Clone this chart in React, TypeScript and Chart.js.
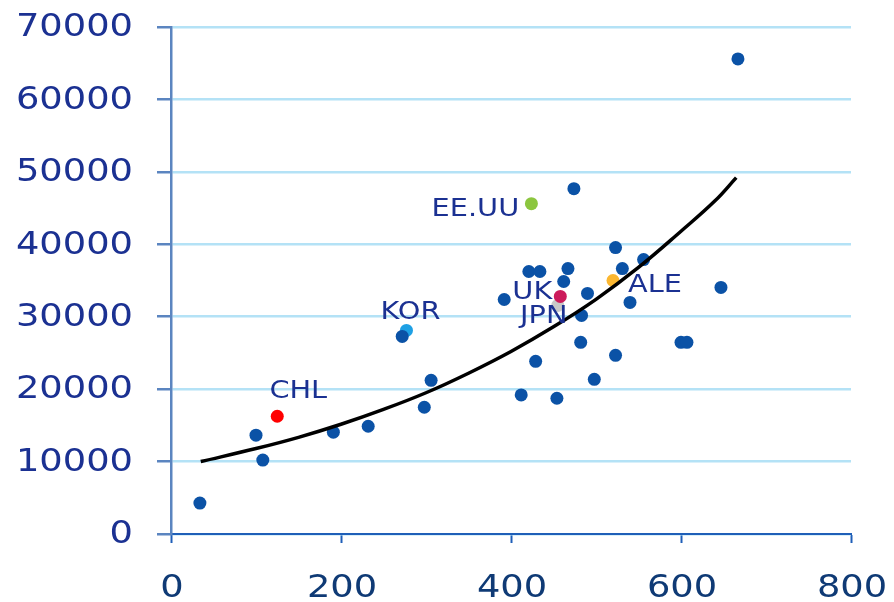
import React, { useEffect, useRef } from "react";
import { Chart, registerables } from "chart.js";

Chart.register(...registerables);

// Other countries (dark blue points)
const otherX = [34, 100, 108, 191, 232, 272, 298, 306, 392, 412, 421, 434, 429, 454, 474, 462, 467, 490, 483, 482, 498, 523, 523, 531, 540, 556, 600, 607, 647, 667];
const otherY = [4270, 13640, 10200, 14060, 14880, 27280, 17500, 21220, 32380, 19200, 36240, 36240, 23840, 18740, 47680, 34860, 36650, 33210, 30180, 26460, 21360, 24670, 39550, 36650, 31970, 37890, 26460, 26460, 34040, 65590];

// Highlighted countries
const hiNames = ["CHL", "KOR", "EE.UU", "JPN", "UK", "ALE"];
const hiX = [125, 277, 424, 455, 458, 520];
const hiY = [16260, 28110, 45610, 31560, 32800, 35000];
const hiColors = ["#ff0000", "#1ea0e4", "#8cc63f", "#c8c8c8", "#cc1b5b", "#fbb731"];

// Trend curve
const trendX = [35, 100, 150, 200, 250, 300, 350, 400, 450, 500, 550, 600, 640, 665];
const trendY = [10000, 11800, 13350, 15150, 17200, 19500, 22200, 25200, 28600, 32400, 36800, 41800, 46000, 49200];

const xTicks = [0, 200, 400, 600, 800];
const yTicks = [0, 10000, 20000, 30000, 40000, 50000, 60000, 70000];

const STRETCH = 1.15;
const BLUE = "#0b52a6";

// label offsets (px) relative to point
const labelOffsets: Record<string, [number, number]> = {
  CHL: [21, -25],
  KOR: [4, -18],
  "EE.UU": [-56, 6],
  JPN: [-14, 11],
  UK: [-28, -4],
  ALE: [42, 5],
};

function stretchedText(ctx: CanvasRenderingContext2D, text: string, x: number, y: number, align: CanvasTextAlign) {
  ctx.save();
  ctx.translate(x, y);
  ctx.scale(STRETCH, 1);
  ctx.textAlign = align;
  ctx.textBaseline = "middle";
  ctx.fillText(text, 0, 0);
  ctx.restore();
}

const textPlugin = {
  id: "texts",
  afterDraw(chart: any) {
    const ctx = chart.ctx as CanvasRenderingContext2D;
    const xs = chart.scales.x;
    const ys = chart.scales.y;
    ctx.save();
    // y tick labels
    ctx.font = "32px 'DejaVu Sans'";
    ctx.fillStyle = "#1b3192";
    yTicks.forEach((v) => stretchedText(ctx, String(v), 133, ys.getPixelForValue(v) + 1, "right"));
    // x tick labels
    ctx.fillStyle = "#0f3a75";
    xTicks.forEach((v) => stretchedText(ctx, String(v), xs.getPixelForValue(v) + 1, 589, "center"));
    // country labels
    ctx.font = "25px 'DejaVu Sans'";
    ctx.fillStyle = "#1b3192";
    hiNames.forEach((n, i) => {
      const off = labelOffsets[n] || [0, 0];
      stretchedText(ctx, n, xs.getPixelForValue(hiX[i]) + off[0], ys.getPixelForValue(hiY[i]) + off[1], "center");
    });
    ctx.restore();
  },
};

export default function App() {
  const ref = useRef<HTMLCanvasElement>(null);
  useEffect(() => {
    if (!ref.current) return;
    const chart = new Chart(ref.current, {
      type: "scatter",
      data: {
        datasets: [
          {
            type: "line",
            data: trendX.map((x, i) => ({ x, y: trendY[i] })),
            borderColor: "#000000",
            borderWidth: 3.5,
            pointRadius: 0,
            tension: 0.4,
            fill: false,
          } as any,
          {
            data: otherX.map((x, i) => ({ x, y: otherY[i] })),
            pointStyle: "circle",
            backgroundColor: BLUE,
            borderWidth: 0,
            pointRadius: 6.5,
          },
          {
            data: hiX.map((x, i) => ({ x, y: hiY[i] })),
            pointStyle: "circle",
            backgroundColor: hiColors,
            borderWidth: 0,
            pointRadius: 6.5,
          },
        ],
      },
      options: {
        animation: false,
        responsive: false,
        devicePixelRatio: 1,
        layout: { padding: { top: 27, right: 43, left: 0, bottom: 0 } },
        plugins: { legend: { display: false }, tooltip: { enabled: false } },
        scales: {
          x: {
            type: "linear",
            min: 0,
            max: 800,
            afterBuildTicks: (s: any) => {
              s.ticks = xTicks.map((v) => ({ value: v }));
            },
            afterFit: (s: any) => {
              s.height = 68;
            },
            ticks: { display: false },
            grid: {
              drawOnChartArea: false,
              tickLength: 9,
              tickColor: "#1f5fb8",
              tickWidth: 2,
            },
            border: { color: "#1f5fb8", width: 2 },
          },
          y: {
            type: "linear",
            min: 0,
            max: 70000,
            afterBuildTicks: (s: any) => {
              s.ticks = yTicks.map((v) => ({ value: v }));
            },
            afterFit: (s: any) => {
              s.width = 171;
            },
            ticks: { display: false },
            grid: {
              color: "#b4e2f6",
              lineWidth: 2.5,
              tickLength: 14,
              tickColor: "#5b85c0",
              tickWidth: 2.5,
            },
            border: { color: "#5b85c0", width: 2.5 },
          },
        },
      },
      plugins: [textPlugin],
    });
    return () => chart.destroy();
  }, []);
  return (
    <div style={{ position: "fixed", left: 0, top: 0, width: 894, height: 602, background: "#fff" }}>
      <canvas ref={ref} width={894} height={602} />
    </div>
  );
}
